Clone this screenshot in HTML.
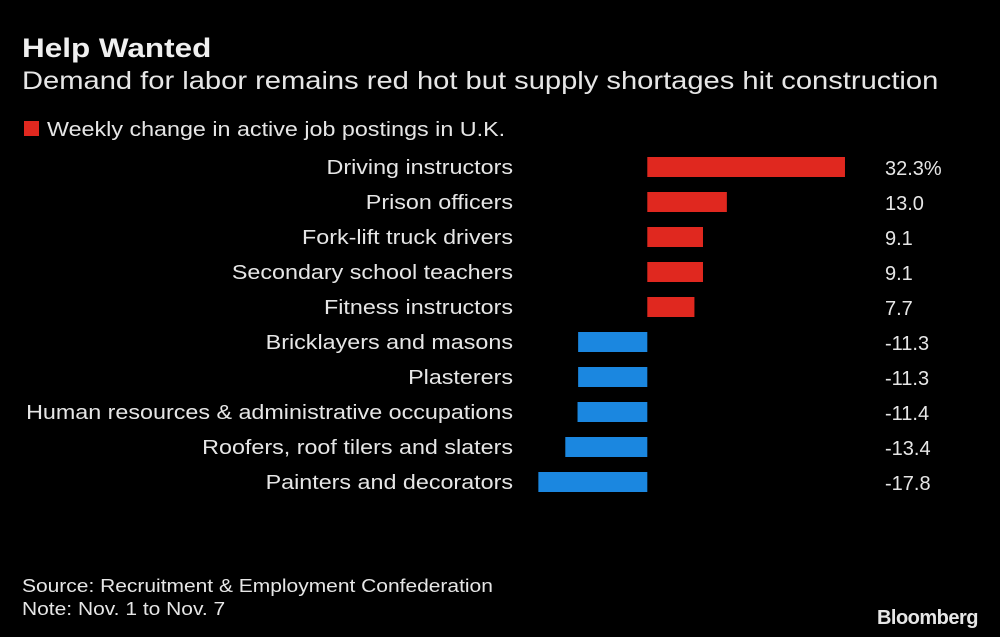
<!DOCTYPE html>
<html><head><meta charset="utf-8"><style>
body{margin:0;background:#000;width:1000px;height:637px;overflow:hidden;font-family:"Liberation Sans",sans-serif;color:#e6e6e6}
svg{position:absolute;left:0;top:0}
</style></head><body>
<svg id="c" width="1000" height="637">
<text class="w" x="22" y="57" font-size="27" font-weight="bold" fill="#f0f0f0">Help Wanted</text>
<text class="w" x="22" y="89" font-size="25" fill="#e6e6e6">Demand for labor remains red hot but supply shortages hit construction</text>
<rect x="24" y="121" width="15" height="15" fill="#e0281f"/>
<text class="w" x="47" y="136" font-size="20" fill="#e6e6e6">Weekly change in active job postings in U.K.</text>
<g id="bars"></g>
<text class="w" x="22" y="592" font-size="18" fill="#e6e6e6">Source: Recruitment &amp; Employment Confederation</text>
<text class="w" x="22" y="615" font-size="18" fill="#e6e6e6">Note: Nov. 1 to Nov. 7</text>
<text x="978" y="624" font-size="20" font-weight="bold" fill="#e6e6e6" text-anchor="end" letter-spacing="-0.5">Bloomberg</text>
</svg>
<script>
const categories=["Driving instructors","Prison officers","Fork-lift truck drivers","Secondary school teachers","Fitness instructors","Bricklayers and masons","Plasterers","Human resources & administrative occupations","Roofers, roof tilers and slaters","Painters and decorators"];
const values=[32.3,13.0,9.1,9.1,7.7,-11.3,-11.3,-11.4,-13.4,-17.8];
const valueLabels=["32.3%","13.0","9.1","9.1","7.7","-11.3","-11.3","-11.4","-13.4","-17.8"];
const x0=647.3,k=6.12;
function xs(v){return x0+v*k;}
function ys(i){return 157+i*35;}
const g=document.getElementById('bars');
const NS="http://www.w3.org/2000/svg";
values.forEach((v,i)=>{
  const r=document.createElementNS(NS,'rect');
  
  
  r.setAttribute('x',Math.min(xs(v),x0));r.setAttribute('y',ys(i));
  r.setAttribute('width',Math.abs(xs(v)-x0));r.setAttribute('height',20);
  r.setAttribute('fill',v>=0?'#e0281f':'#1b87e0');g.appendChild(r);
  const t=document.createElementNS(NS,'text');
  
  
  t.setAttribute('class','w');
  t.setAttribute('x',513);t.setAttribute('y',ys(i)+17);t.setAttribute('text-anchor','end');
  t.setAttribute('font-size','20');t.setAttribute('fill','#e6e6e6');t.textContent=categories[i];g.appendChild(t);
  const l=document.createElementNS(NS,'text');
  
  
  l.setAttribute('x',885);l.setAttribute('y',ys(i)+18);
  l.setAttribute('font-size','20');l.setAttribute('fill','#e6e6e6');l.textContent=valueLabels[i];g.appendChild(l);
});
document.querySelectorAll('text.w').forEach(t=>{
  const w=t.getComputedTextLength();
  t.setAttribute('textLength',(w*1.165).toFixed(1));
  t.setAttribute('lengthAdjust','spacingAndGlyphs');
});
</script>
</body></html>
